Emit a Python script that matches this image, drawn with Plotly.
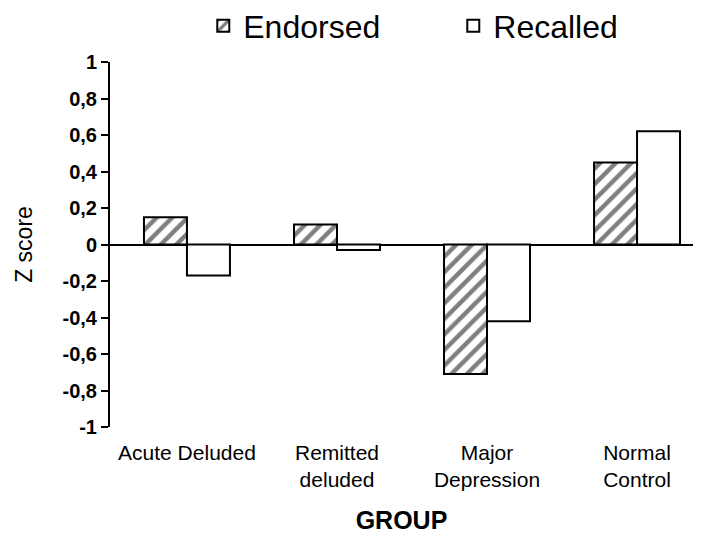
import plotly.graph_objects as go

groups = ["Acute Deluded", "Remitted<br>deluded", "Major<br>Depression", "Normal<br>Control"]
endorsed = [0.15, 0.11, -0.71, 0.45]
recalled = [-0.17, -0.03, -0.42, 0.62]
y_tickvals = [1, 0.8, 0.6, 0.4, 0.2, 0, -0.2, -0.4, -0.6, -0.8, -1]
y_ticktext = ["1", "0,8", "0,6", "0,4", "0,2", "0", "-0,2", "-0,4", "-0,6", "-0,8", "-1"]

FONT = "Liberation Sans, Arial, sans-serif"

fig = go.Figure()
fig.add_trace(go.Bar(
    name="Endorsed", x=groups, y=endorsed,
    marker=dict(color="white", line=dict(color="black", width=2),
                pattern=dict(shape="/", fgcolor="black", bgcolor="white", size=11, solidity=0.4)),
))
fig.add_trace(go.Bar(
    name="Recalled", x=groups, y=recalled,
    marker=dict(color="white", line=dict(color="black", width=2)),
))

fig.update_layout(
    width=685, height=526,
    margin=dict(l=102, r=0, t=54, b=107, autoexpand=False),
    paper_bgcolor="white", plot_bgcolor="white",
    barmode="group", bargap=0.427, bargroupgap=0,
    font=dict(family=FONT, color="black"),
    showlegend=True,
    legend=dict(orientation="h", x=0.16, y=1.0986, xanchor="left", yanchor="middle",
                font=dict(size=32, family=FONT), itemwidth=30,
                entrywidth=205, entrywidthmode="pixels",
                bgcolor="rgba(0,0,0,0)", tracegroupgap=0),
    xaxis=dict(range=[-0.513, 3.373], showline=False, ticks="", showgrid=False,
               tickfont=dict(size=21, family=FONT), ticklabelstandoff=11,
               title=dict(text="<b>GROUP</b>", font=dict(size=25, family=FONT), standoff=26)),
    yaxis=dict(range=[-1, 1], tickvals=y_tickvals, ticktext=y_ticktext,
               showline=True, linecolor="black", linewidth=2,
               ticks="outside", ticklen=7, tickwidth=1.5, tickcolor="black",
               showgrid=False, zeroline=True, zerolinecolor="black", zerolinewidth=2,
               tickfont=dict(size=20, family=FONT, weight="bold"),
               title=dict(text="Z score", font=dict(size=23, family=FONT), standoff=23)),
)

fig.write_html("out.html")
